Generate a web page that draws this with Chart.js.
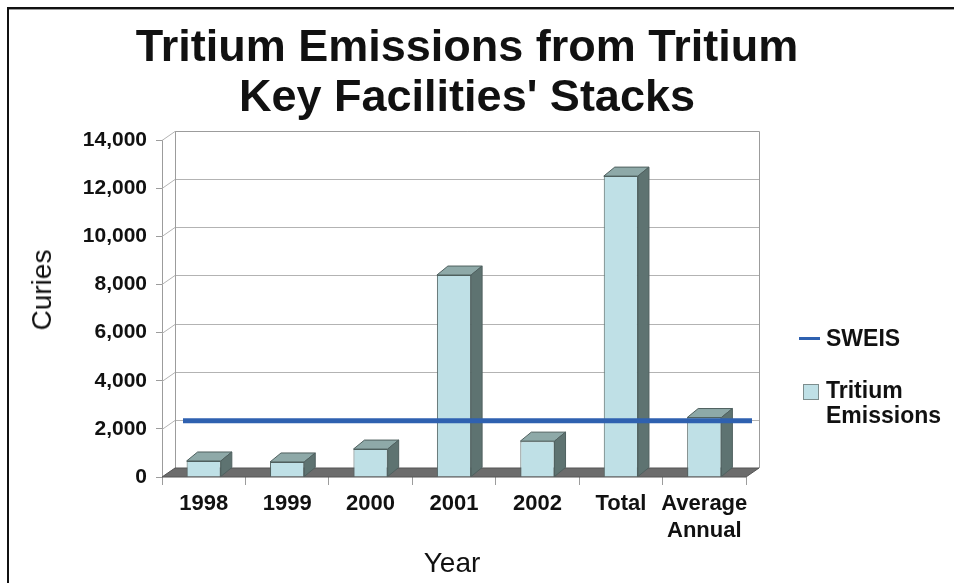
<!DOCTYPE html>
<html>
<head>
<meta charset="utf-8">
<title>Tritium Emissions from Tritium Key Facilities' Stacks</title>
<script src="https://cdn.jsdelivr.net/npm/chart.js@4/dist/chart.umd.min.js"></script>
<style>
  html, body { margin: 0; padding: 0; background: #fff; }
  body { position: relative; width: 954px; height: 583px; overflow: hidden;
         font-family: "Liberation Sans", Arial, Helvetica, sans-serif; color: #111; }
  #frame { position: absolute; left: 7px; top: 7px; right: -4px; bottom: -4px;
           border-left: 2px solid #111; border-top: 2px solid #111;
           box-shadow: inset 0 1px 0 #9a9a9a; }
  #chart { position: absolute; left: 0; top: 0; }
  #title { position: absolute; left: 0; width: 934px; top: 21px; text-align: center;
           font-weight: bold; font-size: 45px; line-height: 50px; }
  #ytitle { position: absolute; left: 42px; top: 290px; font-size: 28px; white-space: nowrap;
            transform: translate(-50%, -50%) rotate(-90deg); }
  #xtitle { position: absolute; left: 452px; top: 563px; font-size: 28px; white-space: nowrap;
            transform: translate(-50%, -50%); }
  .lg { position: absolute; font-weight: bold; font-size: 23px; line-height: 25px; white-space: nowrap; }
  .lg-line { position: absolute; height: 3px; }
  .lg-box { position: absolute; width: 14px; height: 14px; border: 1px solid #7d8d8d; }
</style>
</head>
<body>
<div id="frame"></div>
<canvas id="chart" width="954" height="583"></canvas>
<div id="title">Tritium Emissions from Tritium<br>Key Facilities' Stacks</div>
<div id="ytitle">Curies</div>
<div id="xtitle">Year</div>
<div id="legend"></div>
<script>
// Categories along the floor of the chart
const categories = ['1998', '1999', '2000', '2001', '2002', 'Total', ['Average', 'Annual']];
// Tritium emitted from the stacks, in curies
const emissions = [665, 625, 1160, 8390, 1490, 12500, 2470];
// SWEIS projected level, in curies
const sweis = [2000];
// Value-axis tick labels
const yTicks = [0, 2000, 4000, 6000, 8000, 10000, 12000, 14000];

const FONT = '"Liberation Sans", Arial, Helvetica, sans-serif';
const COLORS = {
  front: '#bfe0e6', top: '#8ea9a8', side: '#5e7371', edge: '#4f605f',
  wall: '#9c9c9c', grid: '#b3b3b3', floor: '#6c6c6c', floorEdge: '#555',
  sweis: '#2f61b0'
};
// Perspective offsets (px) for the walls and for the column depth
const WALL = { dx: 13, dy: -9 };
const BAR = { dx: 11, dy: -9 };

function poly(ctx, pts, fill, stroke) {
  ctx.beginPath();
  ctx.moveTo(pts[0][0], pts[0][1]);
  for (let i = 1; i < pts.length; i++) ctx.lineTo(pts[i][0], pts[i][1]);
  ctx.closePath();
  if (fill) { ctx.fillStyle = fill; ctx.fill(); }
  if (stroke) { ctx.strokeStyle = stroke; ctx.lineWidth = 1; ctx.stroke(); }
}

// Draws the back wall, side wall, floor and the column depth faces
const depth3d = {
  id: 'depth3d',
  beforeDatasetsDraw(chart) {
    const { ctx, chartArea: a, scales: { y } } = chart;
    const b = y.getPixelForValue(0);
    const t = y.getPixelForValue(y.max);
    ctx.save();
    // horizontal grid on the back wall, diagonal grid on the side wall
    ctx.strokeStyle = COLORS.grid;
    ctx.lineWidth = 1;
    yTicks.forEach(v => {
      const py = Math.round(y.getPixelForValue(v)) + 0.5;
      ctx.beginPath();
      ctx.moveTo(a.left, py);
      ctx.lineTo(a.left + WALL.dx, py + WALL.dy);
      ctx.lineTo(a.right + WALL.dx, py + WALL.dy);
      ctx.stroke();
    });
    // back wall outline
    ctx.strokeStyle = COLORS.wall;
    ctx.beginPath();
    ctx.moveTo(a.left + WALL.dx + 0.5, b + WALL.dy);
    ctx.lineTo(a.left + WALL.dx + 0.5, t + WALL.dy + 0.5);
    ctx.lineTo(a.right + WALL.dx + 0.5, t + WALL.dy + 0.5);
    ctx.lineTo(a.right + WALL.dx + 0.5, b + WALL.dy);
    ctx.stroke();
    // floor
    poly(ctx, [[a.left, b], [a.right, b], [a.right + WALL.dx, b + WALL.dy], [a.left + WALL.dx, b + WALL.dy]],
      COLORS.floor, COLORS.floorEdge);
    ctx.restore();
  },
  afterDatasetsDraw(chart) {
    const { ctx, chartArea: a, scales: { y } } = chart;
    ctx.save();
    chart.getDatasetMeta(0).data.forEach(bar => {
      const p = bar.getProps(['x', 'y', 'base', 'width'], true);
      const l = p.x - p.width / 2, r = p.x + p.width / 2;
      poly(ctx, [[l, p.y], [r, p.y], [r + BAR.dx, p.y + BAR.dy], [l + BAR.dx, p.y + BAR.dy]], COLORS.top, COLORS.edge);
      poly(ctx, [[r, p.y], [r + BAR.dx, p.y + BAR.dy], [r + BAR.dx, p.base + BAR.dy], [r, p.base]], COLORS.side, COLORS.edge);
    });
    // SWEIS reference level, laid on the back wall
    const sy = y.getPixelForValue(sweis[0]) + WALL.dy + 1;
    ctx.strokeStyle = COLORS.sweis;
    ctx.lineWidth = 5;
    ctx.beginPath();
    ctx.moveTo(a.left + WALL.dx + 8, sy);
    ctx.lineTo(a.right + WALL.dx - 7, sy);
    ctx.stroke();
    ctx.restore();
  }
};

const chart = new Chart(document.getElementById('chart'), {
  type: 'bar',
  data: {
    labels: categories,
    datasets: [{
      label: 'Tritium Emissions',
      data: emissions,
      backgroundColor: COLORS.front,
      borderColor: COLORS.edge,
      borderWidth: 1,
      barPercentage: 0.41,
      categoryPercentage: 1
    }]
  },
  options: {
    responsive: false,
    animation: false,
    devicePixelRatio: 1,
    layout: { padding: { left: 0, right: 208, top: 140, bottom: 0 } },
    plugins: { legend: { display: false }, title: { display: false }, tooltip: { enabled: false } },
    scales: {
      x: {
        afterFit(s) { s.height = 106; },
        grid: { offset: true, drawOnChartArea: false, tickLength: 8, color: '#9c9c9c' },
        border: { display: false },
        ticks: { color: '#111', padding: 5, maxRotation: 0, autoSkip: false,
                 font: { family: FONT, size: 22, weight: 'bold', lineHeight: 1.25 } }
      },
      y: {
        min: 0, max: 14000,
        afterFit(s) { s.width = 162; },
        afterBuildTicks(s) { s.ticks = yTicks.map(v => ({ value: v })); },
        grid: { drawOnChartArea: false, tickLength: 6, color: '#9c9c9c' },
        border: { display: true, color: '#9c9c9c' },
        ticks: { color: '#111', padding: 9,
                 font: { family: FONT, size: 21, weight: 'bold' },
                 callback: v => Number(v).toLocaleString('en-US') }
      }
    }
  },
  plugins: [depth3d]
});

// Legend beside the plot
const legend = document.getElementById('legend');
legend.innerHTML =
  '<div class="lg-line" style="left:799px;top:337px;width:21px;background:' + COLORS.sweis + '"></div>' +
  '<div class="lg" style="left:826px;top:326px">SWEIS</div>' +
  '<div class="lg-box" style="left:803px;top:384px;background:' + COLORS.front + '"></div>' +
  '<div class="lg" style="left:826px;top:378px">Tritium<br>Emissions</div>';
</script>
</body>
</html>
